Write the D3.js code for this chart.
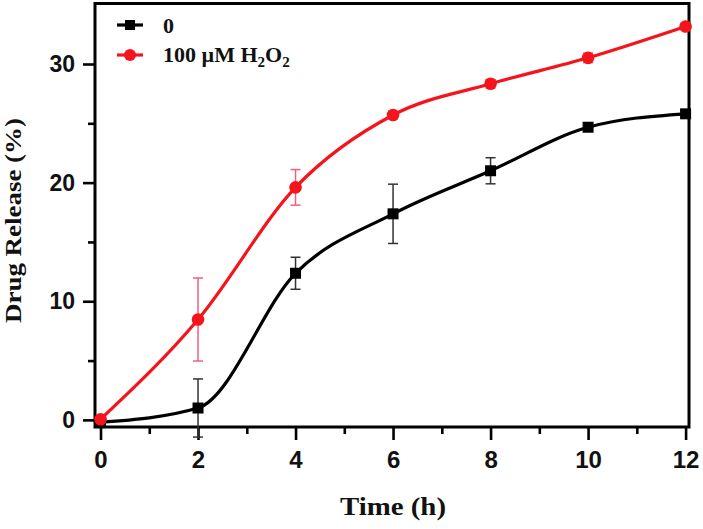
<!DOCTYPE html>
<html>
<head>
<meta charset="utf-8">
<script src="https://cdn.jsdelivr.net/npm/d3@7"></script>
<style>
  html, body { margin: 0; padding: 0; background: #fff; }
  svg { display: block; }
</style>
</head>
<body>
<svg id="chart" width="703" height="529"></svg>
<script>
// ---- data ----
const time = [0, 2, 4, 6, 8, 10, 12];
const ctrl = [-0.2, 1.0, 12.36, 17.37, 21.0, 24.67, 25.8];
const ctrlErr = [0.2, 2.45, 1.35, 2.5, 1.1, 0.3, 0.3];
const h2o2 = [0.05, 8.46, 19.6, 25.7, 28.33, 30.52, 33.16];
const h2o2Err = [0.2, 3.5, 1.5, 0.3, 0.35, 0.4, 0.3];
const xTicks = [0, 2, 4, 6, 8, 10, 12];
const xMinor = [1, 3, 5, 7, 9, 11];
const yTicks = [0, 10, 20, 30];
const yMinor = [5, 15, 25];
const seriesNames = ["0", "100 µM H₂O₂"];

// ---- layout ----
const W = 703, H = 529;
const L = 95, R = 689, T = 3.5, B = 427;
const svg = d3.select("#chart");

const x = d3.scaleLinear().domain([-0.113, 12.07]).range([L, R]);
const y = d3.scaleLinear().domain([-0.6, 35.1]).range([B, T]);

const tickFont = "'Liberation Sans', Arial, sans-serif";
const serif = "'Liberation Serif', 'Times New Roman', serif";

// axes
const xAxis = d3.axisBottom(x).tickValues(xTicks).tickSize(13).tickPadding(11).tickFormat(d3.format("d"));
const xAxisMinor = d3.axisBottom(x).tickValues(xMinor).tickSize(7).tickFormat("");
const yAxis = d3.axisLeft(y).tickValues(yTicks).tickSize(12).tickPadding(8).tickFormat(d3.format("d"));
const yAxisMinor = d3.axisLeft(y).tickValues(yMinor).tickSize(7).tickFormat("");

function styleAxis(size) {
  return g => {
    g.select(".domain").remove();
    g.selectAll(".tick line").attr("stroke", "#000").attr("stroke-width", 2.6);
    g.selectAll(".tick text")
      .attr("font-family", tickFont)
      .attr("font-weight", "bold")
      .attr("font-size", size)
      .attr("fill", "#111");
  };
}
svg.append("g").attr("transform", `translate(0,${B})`).call(xAxis).call(styleAxis(24));
svg.append("g").attr("transform", `translate(0,${B})`).call(xAxisMinor).call(styleAxis(24));
svg.append("g").attr("transform", `translate(${L},0)`).call(yAxis).call(styleAxis(23));
svg.append("g").attr("transform", `translate(${L},0)`).call(yAxisMinor).call(styleAxis(23));

// frame
svg.append("rect")
  .attr("x", L).attr("y", T).attr("width", R - L).attr("height", B - T)
  .attr("fill", "none").attr("stroke", "#000").attr("stroke-width", 3);

// series
const series = [
  { name: seriesNames[0], vals: ctrl, err: ctrlErr, color: "#000", errColor: "#333", shape: "square" },
  { name: seriesNames[1], vals: h2o2, err: h2o2Err, color: "#f5141c", errColor: "#f0607a", shape: "circle" }
];

const line = d3.line().curve(d3.curveMonotoneX).x(d => x(d[0])).y(d => y(d[1]));

series.forEach(s => {
  const pts = time.map((t, i) => [t, s.vals[i], s.err[i]]);
  const g = svg.append("g");
  g.append("path").datum(pts)
    .attr("d", line).attr("fill", "none")
    .attr("stroke", s.color).attr("stroke-width", 3.2);
  // error bars
  const eb = g.selectAll(".eb").data(pts).enter().append("g");
  eb.append("line")
    .attr("x1", d => x(d[0])).attr("x2", d => x(d[0]))
    .attr("y1", d => y(d[1] - d[2])).attr("y2", d => y(d[1] + d[2]))
    .attr("stroke", s.errColor).attr("stroke-width", 1.5);
  [-1, 1].forEach(sg => {
    eb.append("line")
      .attr("x1", d => x(d[0]) - 5).attr("x2", d => x(d[0]) + 5)
      .attr("y1", d => y(d[1] + sg * d[2])).attr("y2", d => y(d[1] + sg * d[2]))
      .attr("stroke", s.errColor).attr("stroke-width", 1.5);
  });
  // markers
  if (s.shape === "square") {
    g.selectAll(".mk").data(pts).enter().append("rect")
      .attr("x", d => x(d[0]) - 5.5).attr("y", d => y(d[1]) - 5.5)
      .attr("width", 11).attr("height", 11).attr("fill", s.color);
  } else {
    g.selectAll(".mk").data(pts).enter().append("circle")
      .attr("cx", d => x(d[0])).attr("cy", d => y(d[1]))
      .attr("r", 6.3).attr("fill", s.color);
  }
});

// legend
const leg = svg.append("g");
const legY = [25, 55];
series.forEach((s, i) => {
  const ly = legY[i];
  leg.append("line").attr("x1", 117).attr("x2", 143).attr("y1", ly).attr("y2", ly)
    .attr("stroke", s.color).attr("stroke-width", 3.2);
  if (s.shape === "square") {
    leg.append("rect").attr("x", 130 - 5).attr("y", ly - 5).attr("width", 10).attr("height", 10).attr("fill", s.color);
  } else {
    leg.append("circle").attr("cx", 130).attr("cy", ly).attr("r", 6).attr("fill", s.color);
  }
});
leg.append("text").attr("x", 163).attr("y", 33)
  .attr("font-family", serif).attr("font-weight", "bold").attr("font-size", 22)
  .attr("fill", "#111").text(seriesNames[0]);
const t2 = leg.append("text").attr("x", 163).attr("y", 62)
  .attr("font-family", serif).attr("font-weight", "bold").attr("font-size", 22)
  .attr("fill", "#111");
t2.append("tspan").text("100 µM H");
t2.append("tspan").attr("font-size", 15).attr("dy", 5).text("2");
t2.append("tspan").attr("dy", -5).text("O");
t2.append("tspan").attr("font-size", 15).attr("dy", 5).text("2");

// axis titles
svg.append("text")
  .attr("x", 393).attr("y", 515).attr("text-anchor", "middle")
  .attr("font-family", serif).attr("font-weight", "bold").attr("font-size", 26)
  .attr("textLength", 106).attr("lengthAdjust", "spacingAndGlyphs")
  .attr("fill", "#111").text("Time (h)");
svg.append("text")
  .attr("transform", "translate(21,220.5) rotate(-90)")
  .attr("text-anchor", "middle")
  .attr("font-family", serif).attr("font-weight", "bold").attr("font-size", 24)
  .attr("textLength", 205).attr("lengthAdjust", "spacingAndGlyphs")
  .attr("fill", "#111").text("Drug Release (%)");
</script>
</body>
</html>
